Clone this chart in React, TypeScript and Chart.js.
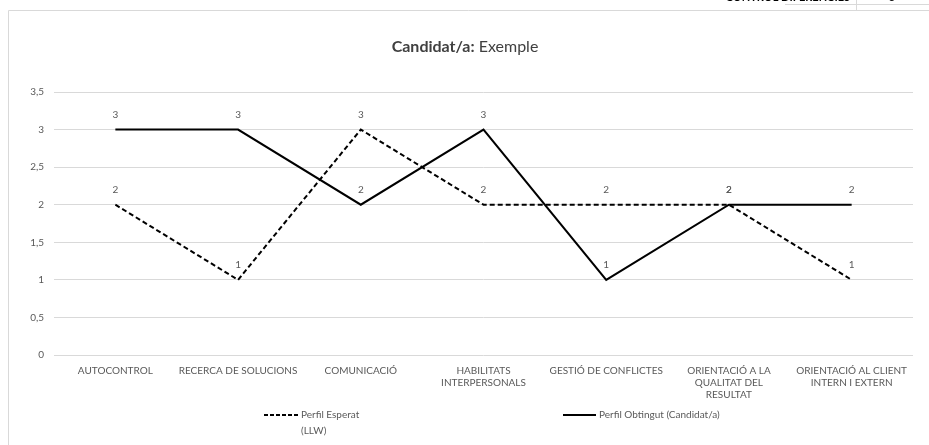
import React, { useEffect, useRef } from "react";
import { Chart, registerables } from "chart.js";

Chart.register(...registerables);

const categories: (string | string[])[] = [
  "AUTOCONTROL",
  "RECERCA DE SOLUCIONS",
  "COMUNICACIÓ",
  ["HABILITATS", "INTERPERSONALS"],
  "GESTIÓ DE CONFLICTES",
  ["ORIENTACIÓ A LA", "QUALITAT DEL", "RESULTAT"],
  ["ORIENTACIÓ AL CLIENT", "INTERN I EXTERN"],
];
const perfilEsperat = [2, 1, 3, 2, 2, 2, 1];
const perfilObtingut = [3, 3, 2, 3, 1, 2, 2];
const seriesNames = ["Perfil Esperat (LLW)", "Perfil Obtingut (Candidat/a)"];
const titleBold = "Candidat/a:";
const titleRest = " Exemple";

const FONT = "Lato, 'Open Sans', sans-serif";
const GRAY = "#595959";

const extrasPlugin = {
  id: "extras",
  afterDatasetsDraw(chart: any) {
    const ctx = chart.ctx;
    ctx.save();
    ctx.font = `10px ${FONT}`;
    ctx.fillStyle = GRAY;
    ctx.textAlign = "center";
    ctx.textBaseline = "middle";
    chart.data.datasets.forEach((ds: any, i: number) => {
      const meta = chart.getDatasetMeta(i);
      meta.data.forEach((pt: any, j: number) => {
        ctx.fillText(String(ds.data[j]), pt.x, pt.y - 15);
      });
    });
    ctx.restore();
  },
  afterDraw(chart: any) {
    const ctx = chart.ctx;
    ctx.save();
    // outer chart border
    ctx.strokeStyle = "#d9d9d9";
    ctx.lineWidth = 1;
    ctx.beginPath();
    ctx.moveTo(8.5, 445);
    ctx.lineTo(8.5, 10.5);
    ctx.lineTo(929, 10.5);
    ctx.stroke();
    // top fragment (cut-off table above the chart)
    ctx.beginPath();
    ctx.moveTo(785, 4.5);
    ctx.lineTo(929, 4.5);
    ctx.moveTo(856.5, 0);
    ctx.lineTo(856.5, 10);
    ctx.stroke();
    ctx.fillStyle = "#000";
    ctx.font = `bold 11px ${FONT}`;
    ctx.textAlign = "right";
    ctx.textBaseline = "alphabetic";
    ctx.fillText("CONTROL DIFERÈNCIES", 850, 1);
    ctx.textAlign = "center";
    ctx.fillText("3", 892, 1);

    // title
    ctx.textBaseline = "middle";
    ctx.fillStyle = "#404040";
    ctx.font = `bold 16px ${FONT}`;
    const wb = ctx.measureText(titleBold).width;
    ctx.font = `16px ${FONT}`;
    const wr = ctx.measureText(titleRest).width;
    const tx = 465 - (wb + wr) / 2;
    ctx.textAlign = "left";
    ctx.font = `bold 16px ${FONT}`;
    ctx.fillText(titleBold, tx, 47);
    ctx.font = `16px ${FONT}`;
    ctx.fillText(titleRest, tx + wb, 47);

    // legend
    ctx.strokeStyle = "#000";
    ctx.lineWidth = 2;
    ctx.setLineDash([4, 2]);
    ctx.beginPath();
    ctx.moveTo(264, 415);
    ctx.lineTo(298, 415);
    ctx.stroke();
    ctx.setLineDash([]);
    ctx.beginPath();
    ctx.moveTo(563, 415);
    ctx.lineTo(596, 415);
    ctx.stroke();
    ctx.fillStyle = GRAY;
    ctx.font = `10px ${FONT}`;
    ctx.fillText("Perfil Esperat", 301, 415);
    ctx.fillText("(LLW)", 301, 431);
    ctx.fillText(seriesNames[1], 599, 415);
    ctx.restore();
  },
};

export default function App() {
  const ref = useRef<HTMLCanvasElement>(null);
  useEffect(() => {
    if (!ref.current) return;
    const chart = new Chart(ref.current, {
      type: "line",
      data: {
        labels: categories as any,
        datasets: [
          {
            label: seriesNames[0],
            data: perfilEsperat,
            borderColor: "#000",
            borderWidth: 2,
            borderDash: [5, 3],
            pointRadius: 0,
            tension: 0,
            fill: false,
          },
          {
            label: seriesNames[1],
            data: perfilObtingut,
            borderColor: "#000",
            borderWidth: 2,
            pointRadius: 0,
            tension: 0,
            fill: false,
          },
        ],
      },
      options: {
        animation: false,
        responsive: false,
        maintainAspectRatio: false,
        layout: { padding: { left: 0, right: 16, top: 92, bottom: 0 } },
        plugins: {
          legend: { display: false },
          title: { display: false },
          tooltip: { enabled: false },
        },
        scales: {
          x: {
            offset: true,
            grid: { display: false, drawTicks: false },
            border: { display: false },
            ticks: {
              color: GRAY,
              font: { family: FONT, size: 10 },
              padding: 10,
              maxRotation: 0,
              autoSkip: false,
            },
            afterFit: (s: any) => {
              s.height = 90;
            },
          },
          y: {
            min: 0,
            max: 3.5,
            grid: { color: "#d9d9d9", drawTicks: false, lineWidth: 1 },
            border: { display: false },
            ticks: {
              stepSize: 0.5,
              color: GRAY,
              font: { family: FONT, size: 10 },
              padding: 10,
              callback: (v: any) => String(v).replace(".", ","),
            },
            afterFit: (s: any) => {
              s.width = 54;
            },
          },
        },
      },
      plugins: [extrasPlugin],
    });
    return () => chart.destroy();
  }, []);
  return (
    <div style={{ position: "fixed", left: 0, top: 0, width: 929, height: 445, background: "#fff" }}>
      <canvas ref={ref} width={929} height={445} style={{ width: 929, height: 445, display: "block" }} />
    </div>
  );
}
